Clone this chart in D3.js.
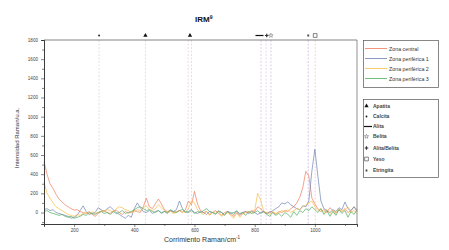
<!DOCTYPE html>
<html>
<head>
<meta charset="utf-8">
<script src="https://cdn.jsdelivr.net/npm/d3@7"></script>
<style>
  body { margin: 0; background: #fff; }
  text { font-family: "Liberation Sans", Arial, sans-serif; }
</style>
</head>
<body>
<div id="chart"></div>
<script>
// Raman shift (cm-1)
const wavenumbers = [100,110,120,130,140,150,160,170,180,190,200,210,220,230,240,250,260,270,280,290,
  300,310,320,330,340,350,360,370,380,390,400,410,420,430,440,450,460,470,480,490,
  500,510,520,530,540,550,560,570,580,590,600,610,620,630,640,650,660,670,680,690,
  700,710,720,730,740,750,760,770,780,790,800,810,820,830,840,850,860,870,880,890,
  900,910,920,930,940,950,960,970,980,990,1000,1010,1020,1030,1040,1050,1060,1070,1080,1090,
  1100,1110,1120,1130,1140];

const zonaCentral = [530,400,300,250,190,140,110,80,60,40,25,30,10,0,-10,10,-20,-40,-10,10,
  20,0,-10,15,25,0,-20,10,-5,0,20,10,0,60,150,60,40,90,140,90,
  30,10,20,0,10,20,0,30,120,80,220,90,20,0,10,-20,0,20,-10,-30,
  0,10,-20,-40,0,-30,-10,10,0,20,10,60,40,0,-10,10,0,-20,10,0,
  20,10,40,60,100,160,260,430,380,150,90,40,10,30,0,50,20,-10,30,10,
  40,0,20,60,30];

const zonaPeriferica1 = [30,40,20,30,0,-10,-20,-30,-40,-60,-50,-30,20,70,10,-20,-10,0,50,30,
  10,40,60,30,0,-20,-40,-60,-30,-50,40,100,50,10,0,20,-10,10,20,0,
  10,-10,20,10,30,120,40,0,10,30,0,-10,10,0,-20,10,0,-10,20,0,
  -20,10,-10,0,10,-20,0,10,-10,10,0,-20,0,10,-10,0,20,40,60,100,
  90,110,80,60,40,30,70,60,120,430,660,380,120,40,20,0,30,10,50,30,
  110,40,20,60,10];

const zonaPeriferica2 = [320,200,150,100,60,40,20,0,-20,-30,-40,-20,-30,-10,0,-20,10,-10,0,20,
  10,30,20,0,40,60,50,30,20,0,10,30,20,50,70,30,20,40,80,50,
  20,0,10,-10,0,20,10,0,40,120,100,30,0,-20,10,-30,0,-10,10,-40,
  -20,0,-30,-60,-10,-50,-20,0,10,-10,20,200,130,10,0,-20,10,-10,0,20,
  10,30,0,20,40,30,60,80,100,120,60,20,40,0,30,-10,20,0,40,10,
  30,60,0,20,-10];

const zonaPeriferica3 = [10,20,0,-10,-20,-30,-20,-40,-50,-40,-60,-50,-40,-20,-30,0,-10,-20,0,10,
  -10,0,-20,10,-10,0,20,-10,0,10,30,50,60,40,20,30,10,0,20,-10,
  10,0,30,10,0,20,30,10,0,20,-10,10,0,20,40,10,0,-20,10,0,
  -30,10,0,-20,20,-10,0,-30,10,-10,0,20,-10,10,-20,-40,0,-30,-10,-40,
  0,-20,-50,10,-30,20,0,40,20,60,30,0,40,-20,20,-40,10,-30,30,-10,
  20,-50,10,-20,30];

const seriesNames = ["Zona central", "Zona periférica 1", "Zona periférica 2", "Zona periférica 3"];
const seriesValues = [zonaCentral, zonaPeriferica1, zonaPeriferica2, zonaPeriferica3];
const seriesColors = ["#f07a5a", "#6f82b4", "#f5bd45", "#4fae62"];

// reference bands (marker on top of plot)
const bandNames = ["Calcita", "Apatita", "Apatita", "Apatita", "Alita", "Alita/Belita", "Belita", "Etringita", "Yeso"];
const bandPositions = [283, 437, 579, 590, 821, 838, 854, 978, 1001];
const bandMarkerPositions = [283, 437, 585, null, 816, 840, 854, 978, 1001];
const bandLineColors = ["#d8d0dc", "#e0cfd8", "#e8c8d8", "#e0cce0", "#cbbde0", "#d8cce4", "#c8b8e0", "#c4b0e0", "#e4c4d8"];

const mineralNames = ["Apatita", "Calcita", "Alita", "Belita", "Alita/Belita", "Yeso", "Etringita"];

const yTicks = [0, 200, 400, 600, 800, 1000, 1200, 1400, 1600, 1800];
const xTicks = [200, 400, 600, 800, 1000];

const W = 449, H = 250;
const margin = {top: 40, right: 92, bottom: 26, left: 44};
const width = W - margin.left - margin.right;
const height = 184;

const svg = d3.select("#chart").append("svg")
    .attr("width", W)
    .attr("height", H);

const x = d3.scaleLinear().domain([100, 1140]).range([margin.left, margin.left + width]);
const y = d3.scaleLinear().domain([-120, 1800]).range([margin.top + height, margin.top]);

// title
const title = svg.append("text")
    .attr("x", 195).attr("y", 22)
    .style("font-size", "8px").style("font-weight", "bold").attr("fill", "#111")
    .text("IRM");
title.append("tspan").attr("dy", -3).style("font-size", "5px").text("9");

// band lines
svg.append("g").selectAll("line")
    .data(bandPositions)
    .join("line")
    .attr("x1", d => x(d)).attr("x2", d => x(d))
    .attr("y1", y(1800)).attr("y2", y(-120))
    .attr("stroke", (d, i) => bandLineColors[i])
    .attr("stroke-width", 0.7)
    .attr("stroke-dasharray", "2,1.5");

// spectra
const line = d3.line()
    .x((d, i) => x(wavenumbers[i]))
    .y(d => y(d));

svg.append("g").selectAll("path")
    .data(seriesValues)
    .join("path")
    .attr("d", d => line(d))
    .attr("fill", "none")
    .attr("stroke", (d, i) => seriesColors[i])
    .attr("stroke-width", 0.7);

// frame
svg.append("line")
    .attr("x1", margin.left).attr("x2", margin.left + width)
    .attr("y1", margin.top).attr("y2", margin.top)
    .attr("stroke", "#666").attr("stroke-width", 0.8);
svg.append("line")
    .attr("x1", margin.left + width).attr("x2", margin.left + width)
    .attr("y1", margin.top).attr("y2", margin.top + height)
    .attr("stroke", "#777").attr("stroke-width", 0.8);

// axes
svg.append("g")
    .attr("transform", `translate(${margin.left},0)`)
    .call(d3.axisLeft(y).tickValues(yTicks).tickSize(3).tickPadding(3).tickFormat(d3.format("d")));
svg.append("g")
    .attr("transform", `translate(${margin.left},0)`)
    .call(d3.axisLeft(y).tickValues(d3.range(-100, 1800, 200)).tickSize(2).tickFormat(""));

svg.append("g")
    .attr("transform", `translate(0,${margin.top + height})`)
    .call(d3.axisBottom(x).tickValues(xTicks).tickSize(3).tickPadding(2).tickFormat(d3.format("d")));
svg.append("g")
    .attr("transform", `translate(0,${margin.top + height})`)
    .call(d3.axisBottom(x).tickValues([100, 300, 500, 700, 900, 1100]).tickSize(2).tickFormat(""));

svg.selectAll(".domain").attr("stroke", "#333").attr("stroke-width", 0.8);
svg.selectAll(".tick line").attr("stroke", "#333").attr("stroke-width", 0.6);
svg.selectAll(".tick text").style("font-size", "4.6px").attr("fill", "#444").attr("font-family", "Liberation Sans, Arial, sans-serif");

// axis titles
svg.append("text")
    .attr("transform", `translate(19,${margin.top + 98}) rotate(-90)`)
    .attr("text-anchor", "middle")
    .style("font-size", "6px").attr("fill", "#333")
    .text("Intensidad Raman/u.a.");

const xt = svg.append("text")
    .attr("x", 202).attr("y", 242)
    .attr("text-anchor", "middle")
    .style("font-size", "7px").attr("fill", "#333")
    .text("Corrimiento Raman/cm");
xt.append("tspan").attr("dy", -3).style("font-size", "4.5px").text("-1");

// mineral symbols
function drawSymbol(g, name, cx, cy) {
    if (name === "Apatita") {
        g.append("path").attr("transform", `translate(${cx},${cy})`)
            .attr("d", d3.symbol(d3.symbolTriangle, 8)()).attr("fill", "#111");
    } else if (name === "Calcita") {
        g.append("path").attr("transform", `translate(${cx},${cy})`)
            .attr("d", d3.symbol(d3.symbolCircle, 2.5)()).attr("fill", "#111");
    } else if (name === "Alita") {
        g.append("line").attr("x1", cx - 4).attr("x2", cx + 4).attr("y1", cy).attr("y2", cy)
            .attr("stroke", "#111").attr("stroke-width", 1.2);
    } else if (name === "Belita") {
        g.append("path").attr("transform", `translate(${cx},${cy})`)
            .attr("d", d3.symbol(d3.symbolStar, 6)()).attr("fill", "none")
            .attr("stroke", "#555").attr("stroke-width", 0.45);
    } else if (name === "Alita/Belita") {
        g.append("path").attr("transform", `translate(${cx},${cy})`)
            .attr("d", d3.symbol(d3.symbolCross, 7)()).attr("fill", "#333");
    } else if (name === "Yeso") {
        g.append("path").attr("transform", `translate(${cx},${cy})`)
            .attr("d", d3.symbol(d3.symbolSquare, 14)()).attr("fill", "#fff")
            .attr("stroke", "#333").attr("stroke-width", 0.6);
    } else if (name === "Etringita") {
        g.append("path").attr("transform", `translate(${cx},${cy})`)
            .attr("d", d3.symbol(d3.symbolAsterisk || d3.symbolCross, 4)()).attr("fill", "none")
            .attr("stroke", "#222").attr("stroke-width", 0.6);
    }
}

const topMarks = svg.append("g");
bandNames.forEach((name, i) => {
    if (bandMarkerPositions[i] === null) return;
    drawSymbol(topMarks, name, x(bandMarkerPositions[i]), 35.5);
});

// legend 1: series
const leg1 = svg.append("g");
leg1.append("rect")
    .attr("x", 363.5).attr("y", 40.5).attr("width", 75).attr("height", 47)
    .attr("fill", "#fff").attr("stroke", "#555").attr("stroke-width", 0.7);
seriesNames.forEach((name, i) => {
    const ly = 48.5 + i * 10;
    leg1.append("line").attr("x1", 365).attr("x2", 387).attr("y1", ly).attr("y2", ly)
        .attr("stroke", seriesColors[i]).attr("stroke-width", 0.8);
    leg1.append("text").attr("x", 389).attr("y", ly + 2)
        .style("font-size", "5.3px").attr("fill", "#333").text(name);
});

// legend 2: minerals
const leg2 = svg.append("g");
leg2.append("rect")
    .attr("x", 363.5).attr("y", 99.5).attr("width", 75).attr("height", 78)
    .attr("fill", "#fff").attr("stroke", "#555").attr("stroke-width", 0.7);
const mineralY = [106, 116.5, 126.5, 136.5, 148, 159, 170.5];
mineralNames.forEach((name, i) => {
    drawSymbol(leg2, name, name === "Alita" ? 368 : 366.5, mineralY[i]);
    leg2.append("text").attr("x", 373).attr("y", mineralY[i] + 1.8)
        .style("font-size", "5px").style("font-weight", "bold").attr("fill", "#444").text(name);
});
</script>
</body>
</html>
